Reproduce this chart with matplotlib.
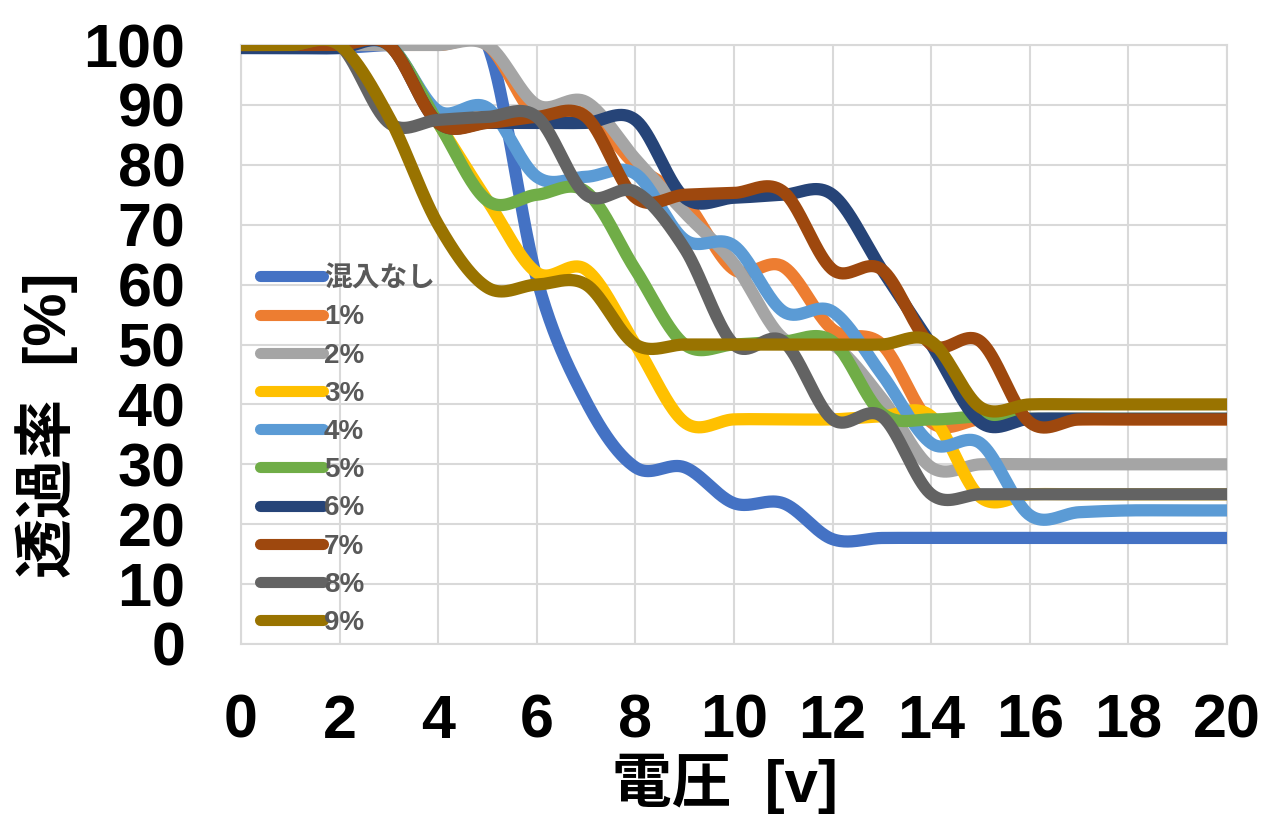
import numpy as np
import matplotlib
matplotlib.use("Agg")
import matplotlib.pyplot as plt

# 電圧ごとの透過率 (混入率別)
volts = list(range(21))
labels = ["混入なし", "1%", "2%", "3%", "4%", "5%", "6%", "7%", "8%", "9%"]
colors = ["#4472C4", "#ED7D31", "#A5A5A5", "#FFC000", "#5B9BD5",
          "#70AD47", "#264478", "#9E480E", "#636363", "#997300"]

t_none = [99.5, 99.5, 99.5, 100, 100, 100, 61, 40.5, 29.5, 29.5, 23.5,
          23.5, 17.5, 17.7, 17.7, 17.7, 17.7, 17.7, 17.7, 17.7, 17.7]
t_1 = [100, 100, 100, 100, 100, 100, 88, 88.5, 80, 74, 62.5,
       63, 52.5, 50, 37, 37.5, 37.5, 37.5, 37.5, 37.5, 37.5]
t_2 = [100, 100, 100, 100, 100, 100, 90, 90.5, 81, 72, 63.5,
       51, 50, 41, 29.5, 30, 30, 30, 30, 30, 30]
t_3 = [100, 100, 100, 100, 87, 74, 62, 62.5, 50, 37, 37.5,
       37.5, 37.5, 38, 38, 24.5, 25, 25, 25, 25, 25]
t_4 = [100, 100, 100, 100, 89, 89.5, 78, 78, 78.5, 67.5, 66.5,
       55.5, 55.5, 45, 33.5, 33.5, 21.5, 22, 22.3, 22.3, 22.3]
t_5 = [100, 100, 100, 100, 87, 74, 75, 75.5, 62.5, 50, 50,
       50.5, 50.5, 38.5, 37.5, 38, 37.6, 37.6, 37.6, 37.6, 37.6]
t_6 = [99.5, 99.5, 99.5, 100, 87, 87, 87, 87, 87.5, 74.5, 74.5,
       75, 75, 62.5, 50, 37, 37.6, 37.6, 37.6, 37.6, 37.6]
t_7 = [100, 100, 100, 100, 87, 87, 88, 88, 74.5, 75, 75.3,
       75.5, 62.5, 62.5, 50, 50.5, 37, 37.5, 37.5, 37.5, 37.5]
t_8 = [100, 100, 100, 87, 87.5, 88, 88, 75, 75.5, 66, 50,
       50.5, 37.5, 38, 25, 25, 25, 25, 25, 25, 25]
t_9 = [100, 100, 100, 88, 70, 59.5, 60, 60, 50, 50, 50,
       50, 50, 50, 50.5, 39.5, 40, 40, 40, 40, 40]
series = [t_none, t_1, t_2, t_3, t_4, t_5, t_6, t_7, t_8, t_9]


def smooth(xs, ys, n=40):
    # Excel風の平滑線 (Catmull-Rom を3次ベジェで)
    p = np.column_stack([xs, ys]).astype(float)
    out = []
    t = np.linspace(0, 1, n)[:, None]
    for i in range(len(p) - 1):
        p0 = p[i - 1] if i > 0 else p[i]
        p1, p2 = p[i], p[i + 1]
        p3 = p[i + 2] if i + 2 < len(p) else p[i + 1]
        c1 = p1 + (p2 - p0) / 6
        c2 = p2 - (p3 - p1) / 6
        seg = ((1 - t) ** 3) * p1 + 3 * ((1 - t) ** 2) * t * c1 \
            + 3 * (1 - t) * t ** 2 * c2 + t ** 3 * p2
        out.append(seg if i == 0 else seg[1:])
    out = np.vstack(out)
    return out[:, 0], out[:, 1]


plt.rcParams['font.family'] = ['Liberation Sans', 'Noto Sans CJK JP']
plt.rcParams['font.weight'] = 'bold'

fig = plt.figure(figsize=(12.65, 8.15), dpi=100)
ax = fig.add_axes([241 / 1265, 1 - 644 / 815, 986 / 1265, 599 / 815])

for ys, lab, c in zip(series, labels, colors):
    sx, sy = smooth(volts, ys)
    ax.plot(sx, sy, color=c, lw=8.8, label=lab,
            solid_capstyle='butt', solid_joinstyle='round', zorder=3)

ax.set_xlim(0, 20)
ax.set_ylim(0, 100)
ax.set_xticks(range(0, 21, 2))
ax.set_yticks(range(0, 101, 10))
ax.grid(True, color='#D9D9D9', lw=1.5, zorder=0)
for s in ax.spines.values():
    s.set_color('#D9D9D9')
    s.set_linewidth(1.5)
ax.tick_params(length=0, labelsize=44)
ax.tick_params(axis='y', pad=40)
ax.tick_params(axis='x', pad=36)
for lbl in ax.get_xticklabels() + ax.get_yticklabels():
    lbl.set_fontweight('bold')

leg = ax.legend(loc='upper left', bbox_to_anchor=(0.0193, 0.631),
                frameon=False, fontsize=20, handlelength=2.27,
                handletextpad=0.03, labelspacing=0.44, borderpad=0,
                borderaxespad=0)
for h in leg.get_lines():
    h.set_linewidth(8)
    h.set_solid_capstyle('round')
for txt in leg.get_texts():
    txt.set_color('#595959')
    txt.set_fontweight('bold')

fig.text(725 / 1265, 1 - 784 / 815, "電圧  [v]", fontsize=43,
         fontweight='bold', ha='center', va='center')
fig.text(47 / 1265, 1 - 425 / 815, "透過率  [%]", fontsize=43,
         fontweight='bold', ha='center', va='center', rotation=90)

fig.savefig("out.png", dpi=100)
